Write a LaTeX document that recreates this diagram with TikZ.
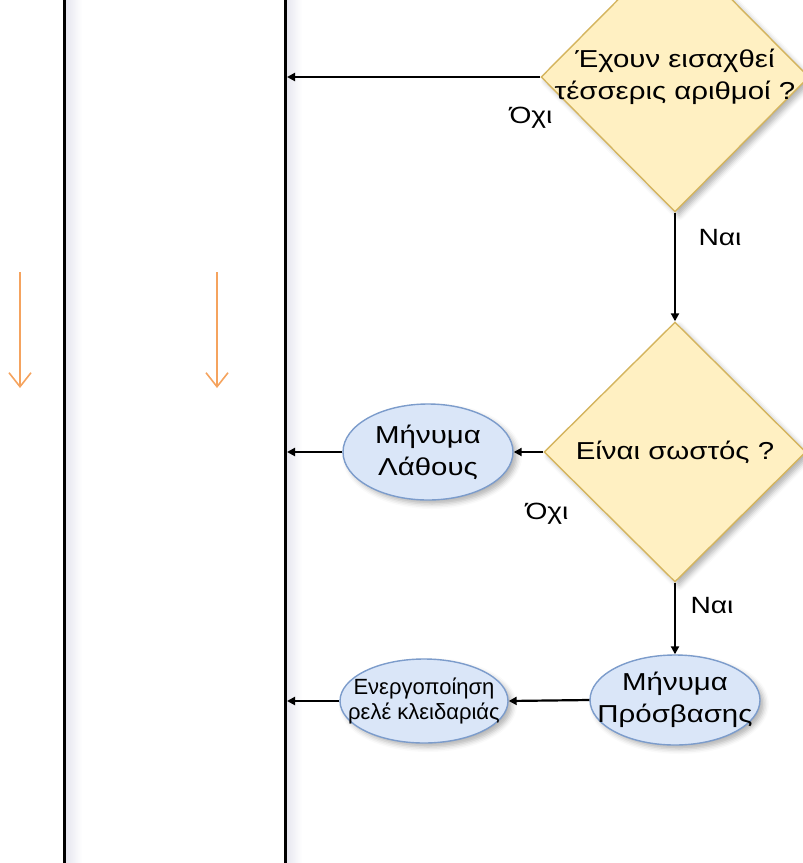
\documentclass[tikz,border=0pt]{standalone}
\usepackage{fontspec}
\setmainfont{Liberation Sans}
\newfontfamily\widesans[FakeStretch=1.2]{Liberation Sans}
\usetikzlibrary{shapes.geometric,arrows.meta,shadows.blur}

\definecolor{decfill}{HTML}{FFF0C2}
\definecolor{decdraw}{HTML}{D4B45E}
\definecolor{msgfill}{HTML}{DAE6F8}
\definecolor{msgdraw}{HTML}{7C9CCB}
\definecolor{flowor}{HTML}{F5A35E}
\definecolor{laneshadow}{HTML}{E6E6EF}

\tikzset{
  soft/.style={blur shadow={shadow xshift=4pt,shadow yshift=-4pt,
      shadow blur radius=5pt,shadow opacity=30}},
  decision/.style={diamond,draw=decdraw,line width=1.4pt,fill=decfill,
      inner sep=0pt,soft},
  message/.style={ellipse,draw=msgdraw,line width=1.4pt,fill=msgfill,
      inner sep=0pt,soft},
  txt/.style={align=center,font=\widesans\fontsize{24.5}{32}\selectfont,inner sep=0pt},
  smalltxt/.style={align=center,font=\fontsize{22}{25}\selectfont,inner sep=0pt},
  ans/.style={font=\widesans\fontsize{23.5}{26}\selectfont,inner sep=0pt},
  link/.style={line width=2.2pt,-{Triangle[length=8pt,width=8pt]}},
  lane/.style={line width=3pt},
  flow/.style={flowor,line width=1.6pt,-{Straight Barb[length=14pt,width=22pt,line width=1.6pt]}}
}

\begin{document}
\begin{tikzpicture}[x=1pt,y=-1pt]
  \useasboundingbox (0,0) rectangle (803,863);
  \clip (0,0) rectangle (803,863);

  % lane separators with their soft shade
  \shade[left color=laneshadow,right color=white] (66,0) rectangle (82,863);
  \shade[left color=laneshadow,right color=white] (286,0) rectangle (302,863);
  \coordinate (l1top) at (64,0);
  \coordinate (l1bot) at (64,863);
  \coordinate (l2top) at (285,0);
  \coordinate (l2bot) at (285,863);
  \draw[lane] (l1top) -- (l1bot);
  \draw[lane] (l2top) -- (l2bot);

  % direction of flow in the left lanes
  \coordinate (f1a) at (20,272);
  \coordinate (f1b) at (20,388);
  \coordinate (f2a) at (217,272);
  \coordinate (f2b) at (217,388);
  \draw[flow] (f1a) -- (f1b);
  \draw[flow] (f2a) -- (f2b);

  % decisions
  \node[decision,minimum width=268pt,minimum height=270pt,
        label={[txt]center:{Έχουν εισαχθεί\\τέσσερις αριθμοί ?}}] (d1) at (675,77) {};
  \node[decision,minimum width=262pt,minimum height=260pt,
        label={[txt]center:{Είναι σωστός ?}}] (d2) at (675,452) {};

  % messages and actions
  \node[message,minimum width=170pt,minimum height=96pt,
        label={[txt]center:{Μήνυμα\\Λάθους}}] (err) at (428,452) {};
  \node[message,minimum width=170pt,minimum height=90pt,
        label={[txt]center:{Μήνυμα\\Πρόσβασης}}] (ok) at (675,700) {};
  \node[message,minimum width=168pt,minimum height=84pt,
        label={[smalltxt]center:{Ενεργοποίηση\\ρελέ κλειδαριάς}}] (relay) at (424,701) {};

  % points on the lane line
  \coordinate (p1) at (287,77);
  \coordinate (p2) at (287,452);
  \coordinate (p3) at (287,701);

  % connectors
  \draw[link] (d1.west) -- (p1);
  \draw[link] (d1.south) -- (d2.north);
  \draw[link] (d2.west) -- (err.east);
  \draw[link] (err.west) -- (p2);
  \draw[link] (d2.south) -- (ok.north);
  \draw[link] (ok.west) -- (relay.east);
  \draw[link] (relay.west) -- (p3);

  % answers
  \node[ans] (no1) at (531,118) {Όχι};
  \node[ans] (yes1) at (720,238) {Ναι};
  \node[ans] (no2) at (547,514) {Όχι};
  \node[ans] (yes2) at (712,606) {Ναι};
\end{tikzpicture}
\end{document}
